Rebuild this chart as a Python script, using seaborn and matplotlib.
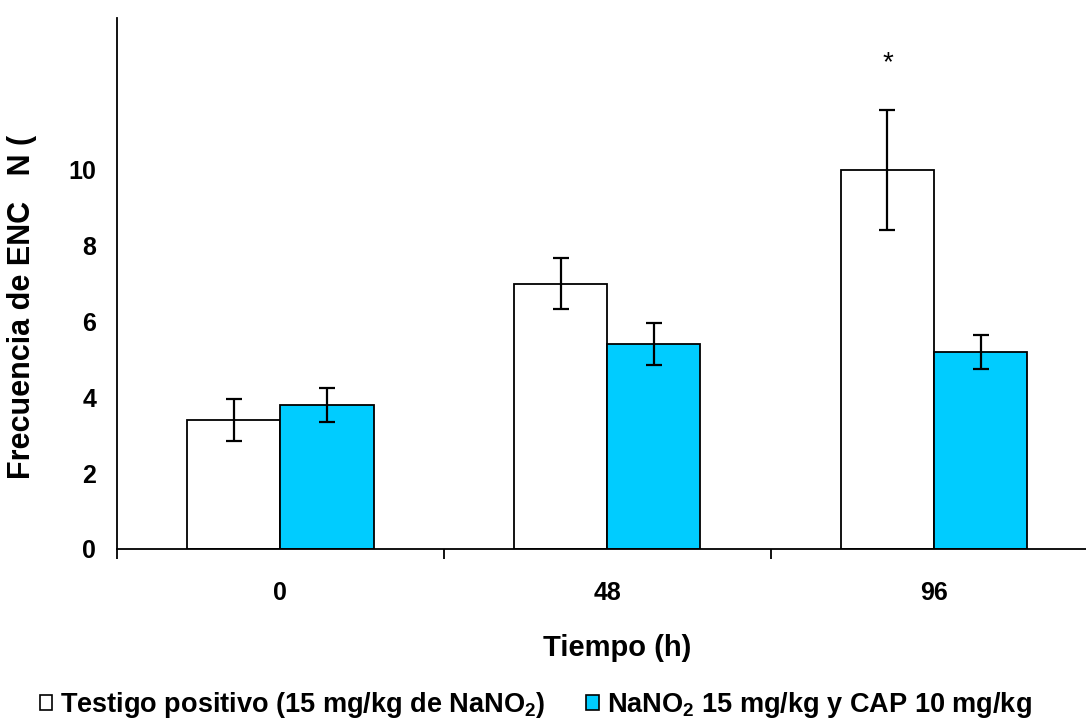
import matplotlib
matplotlib.use("Agg")
import matplotlib.pyplot as plt
from matplotlib.patches import Patch
from matplotlib.ticker import FixedLocator, NullFormatter
import seaborn as sns
import pandas as pd

# Data: frequency of ENC per time point for each treatment group
tiempos = ["0", "48", "96"]
grupos = ["Testigo positivo (15 mg/kg de NaNO$_{2}$)",
          "NaNO$_{2}$ 15 mg/kg y CAP 10 mg/kg"]
testigo_media = [3.4, 7.0, 10.0]
testigo_error = [0.55, 0.68, 1.58]
cap_media = [3.8, 5.4, 5.2]
cap_error = [0.45, 0.55, 0.45]
colores = ["#FFFFFF", "#00CCFF"]
y_ticks = [0, 2, 4, 6, 8, 10, 12, 14]
y_ticklabels = ["0", "2", "4", "6", "8", "10", "", ""]

sns.set_style("white")
plt.rcParams["font.family"] = ["Liberation Sans", "DejaVu Sans"]
plt.rcParams["font.weight"] = "bold"
plt.rcParams["text.color"] = "black"
plt.rcParams["axes.labelcolor"] = "black"
plt.rcParams["xtick.color"] = "black"
plt.rcParams["ytick.color"] = "black"
plt.rcParams["mathtext.fontset"] = "custom"
plt.rcParams["mathtext.rm"] = "Liberation Sans:bold"
plt.rcParams["mathtext.it"] = "Liberation Sans:bold"
plt.rcParams["mathtext.bf"] = "Liberation Sans:bold"

df = pd.DataFrame({
    "Tiempo": tiempos * 2,
    "Grupo": [grupos[0]] * 3 + [grupos[1]] * 3,
    "Frecuencia": testigo_media + cap_media,
})
errores = [testigo_error, cap_error]

fig = plt.figure(figsize=(10.86, 7.19), dpi=100)
ax = fig.add_axes([117 / 1086, 170 / 719, (1086 - 117) / 1086, (549 - 18) / 719])

sns.barplot(data=df, x="Tiempo", y="Frecuencia", hue="Grupo",
            order=tiempos, hue_order=grupos,
            palette=dict(zip(grupos, colores)), saturation=1,
            width=0.57, edgecolor="black", linewidth=1.3,
            errorbar=None, legend=False, ax=ax)

# Error bars centred on each bar
for cont, err in zip(ax.containers, errores):
    xs = [p.get_x() + p.get_width() / 2 for p in cont]
    hs = [p.get_height() for p in cont]
    ax.errorbar(xs, hs, yerr=err, fmt="none", ecolor="black",
                elinewidth=1.6, capsize=5.5, capthick=1.6, zorder=5)

# Significance mark over the 96 h control bar
p96 = ax.containers[0][2]
ax.text(p96.get_x() + p96.get_width() / 2, 12.8, "*", ha="center",
        va="center", fontsize=20, fontweight="normal", color="black")

ax.set_ylim(0, 14)
ax.set_xlim(-0.5, 2.465)
ax.yaxis.set_major_locator(FixedLocator(y_ticks))
ax.set_yticklabels(y_ticklabels)
ax.tick_params(axis="y", which="major", direction="out", length=7,
               width=1.3, color="black", labelsize=18, pad=8)
ax.tick_params(axis="x", which="major", length=0, labelsize=18, pad=23)
ax.xaxis.set_minor_locator(FixedLocator([-0.5, 0.5, 1.5]))
ax.xaxis.set_minor_formatter(NullFormatter())
ax.tick_params(axis="x", which="minor", direction="out", length=7,
               width=1.3, color="black", bottom=True)
for lab in ax.get_xticklabels() + ax.get_yticklabels():
    lab.set_fontweight("bold")

for side in ["top", "right"]:
    ax.spines[side].set_visible(False)
for side in ["left", "bottom"]:
    ax.spines[side].set_color("black")
    ax.spines[side].set_linewidth(1.3)

ax.set_xlabel("")
ax.set_ylabel("")
fig.text(22 / 1086, 1 - 307 / 719, "Frecuencia de ENC   N (", rotation=90,
         ha="center", va="center", fontsize=22, fontweight="bold")
fig.text(617 / 1086, 1 - 648 / 719, "Tiempo (h)", ha="center", va="center",
         fontsize=21, fontweight="bold")

handles = [Patch(facecolor=c, edgecolor="black", linewidth=1.2) for c in colores]
fig.legend(handles, grupos, loc="center left",
           bbox_to_anchor=(40 / 1086, 1 - 705 / 719), ncol=2, frameon=False,
           handlelength=0.45, handleheight=0.5,
           handletextpad=0.3, columnspacing=1.5, borderaxespad=0,
           borderpad=0, prop={"weight": "bold", "size": 19.5})

fig.savefig("out.png", dpi=100)
